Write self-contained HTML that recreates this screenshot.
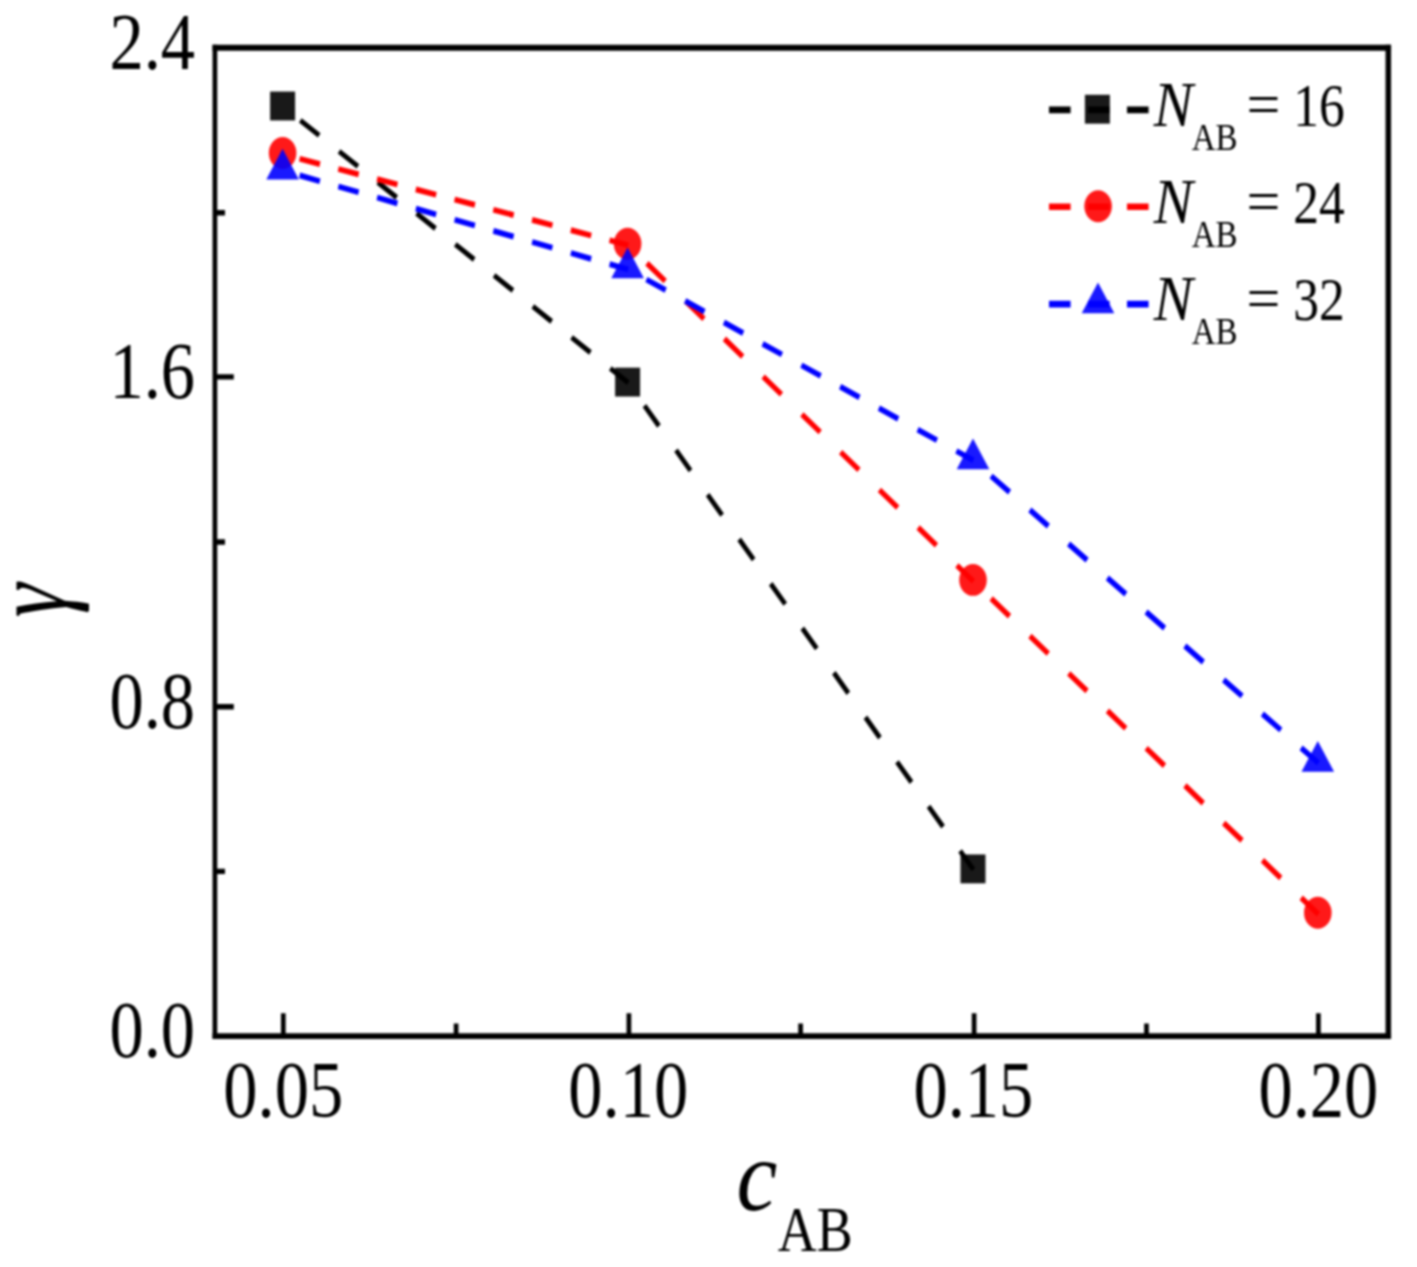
<!DOCTYPE html>
<html lang="en"><head><meta charset="utf-8"><title>gamma vs c_AB</title>
<style>
html,body{margin:0;padding:0;background:#fff;}
body{width:1417px;height:1267px;overflow:hidden;}
svg{display:block;}
#chart{width:1417px;height:1267px;filter:blur(1px);}
text{font-family:"Liberation Serif","Times New Roman",Times,serif;fill:#000;}
.it{font-style:italic;}
</style></head><body><div id="chart">
<svg width="1417" height="1267" viewBox="0 0 1417 1267">
<rect width="1417" height="1267" fill="#fff"/>
<g transform="scale(1,1.155)">
<path d="M214.9 38.65 V899.64" stroke="#000" stroke-width="4.7" fill="none"/>
<path d="M1388.3 38.65 V899.64" stroke="#000" stroke-width="5.5" fill="none"/>
<path d="M212.55 41.3 H1391.05" stroke="#000" stroke-width="5.3" fill="none"/>
<path d="M212.55 897.14 H1391.05" stroke="#000" stroke-width="5.0" fill="none"/>
<path d="M283.3 897.14 V877.32 M628.9 897.14 V877.32 M974.1 897.14 V877.32 M1318.4 897.14 V877.32 M456.1 897.14 V886.15 M800.6 897.14 V886.15 M1146.5 897.14 V886.15 M214.9 326.32 H233.8 M214.9 611.86 H233.8 M214.9 184.16 H225 M214.9 469.26 H225 M214.9 754.46 H225" stroke="#000" stroke-width="4.7" fill="none"/>
<path d="M300.31 104.17L319.19 117.25M339.06 131.02L357.94 144.1M377.81 157.87L396.69 170.95M416.56 184.72L435.44 197.8M455.31 211.57L474.19 224.65M494.06 238.41L512.94 251.5M532.81 265.26L551.69 278.35M571.56 292.11L590.44 305.2M610.31 318.96L628.3 331.43" stroke="#000" stroke-width="4.6" fill="none"/>
<path d="M644.48 351.19L658.96 368.87M676.04 389.74L690.52 407.42M707.61 428.29L722.09 445.97M739.17 466.84L753.65 484.52M770.74 505.39L785.22 523.07M802.3 543.94L816.78 561.62M833.86 582.49L848.35 600.17M865.43 621.04L879.91 638.72M896.99 659.59L911.48 677.27M928.56 698.14L943.04 715.82M960.12 736.69L973.4 752.9" stroke="#000" stroke-width="4.6" fill="none"/>
<path d="M299.55 137.47L319.95 142.11M338.3 146.29L358.7 150.93M377.05 155.11L397.45 159.75M415.8 163.93L436.2 168.57M454.55 172.75L474.95 177.39M493.3 181.57L513.7 186.21M532.05 190.39L552.45 195.03M570.8 199.21L591.2 203.85M609.55 208.03L628.3 212.29" stroke="#f00" stroke-width="5" fill="none"/>
<path d="M646.91 227.99L665.19 243.41M685.66 260.68L703.94 276.09M724.41 293.36L742.69 308.78M763.16 326.05L781.44 341.46M801.91 358.73L820.19 374.15M840.66 391.42L858.94 406.83M879.41 424.1L897.69 439.52M918.16 456.78L936.44 472.2M956.91 489.47L973.4 503.38" stroke="#f00" stroke-width="5" fill="none"/>
<path d="M991.2 518.25L1009.5 533.53M1029.95 550.62L1048.25 565.91M1068.7 583L1087 598.28M1107.45 615.37L1125.75 630.65M1146.2 647.74L1164.5 663.03M1184.95 680.12L1203.25 695.4M1223.7 712.49L1242 727.77M1262.45 744.86L1280.75 760.15M1301.2 777.23L1318.4 791.6" stroke="#f00" stroke-width="5" fill="none"/>
<path d="M299.6 151.83L319.9 156.87M338.35 161.44L358.65 166.47M377.1 171.05L397.4 176.08M415.85 180.66L436.15 185.69M454.6 190.27L474.9 195.3M493.35 199.87L513.65 204.91M532.1 209.48L552.4 214.51M570.85 219.09L591.15 224.12M609.6 228.7L628.3 233.33" stroke="#00f" stroke-width="5" fill="none"/>
<path d="M646.38 241.99L665.72 251.26M685.13 260.55L704.47 269.81M723.88 279.11L743.22 288.37M762.63 297.67L781.97 306.93M801.38 316.23L820.72 325.49M840.13 334.79L859.47 344.05M878.88 353.35L898.22 362.61M917.63 371.9L936.97 381.17M956.38 390.46L973.4 398.61" stroke="#00f" stroke-width="5" fill="none"/>
<path d="M991.11 412.07L1009.59 426.1M1029.86 441.49L1048.34 455.52M1068.61 470.92L1087.09 484.95M1107.36 500.34L1125.84 514.38M1146.11 529.77L1164.59 543.8M1184.86 559.2L1203.34 573.23M1223.61 588.62L1242.09 602.66M1262.36 618.05L1280.84 632.08M1301.11 647.48L1318.4 660.61" stroke="#00f" stroke-width="5" fill="none"/>
<rect x="270.1" y="79.27" width="25" height="25" fill="#000" fill-opacity="0.9"/>
<rect x="615.1" y="318.32" width="25" height="25" fill="#000" fill-opacity="0.9"/>
<rect x="960.5" y="739.79" width="25" height="25" fill="#000" fill-opacity="0.9"/>
<circle cx="282.6" cy="132.47" r="13.8" fill="#f00" fill-opacity="0.9"/>
<circle cx="627.6" cy="211" r="13.8" fill="#f00" fill-opacity="0.9"/>
<circle cx="973" cy="502.08" r="13.8" fill="#f00" fill-opacity="0.9"/>
<circle cx="1317.8" cy="790.3" r="13.8" fill="#f00" fill-opacity="0.9"/>
<path d="M282.6 128.76 L298.9 155.36 L266.3 155.36 Z" fill="#00f" fill-opacity="0.9"/>
<path d="M627.6 214.3 L643.9 240.9 L611.3 240.9 Z" fill="#00f" fill-opacity="0.9"/>
<path d="M973 379.58 L989.3 406.18 L956.7 406.18 Z" fill="#00f" fill-opacity="0.9"/>
<path d="M1317.8 641.57 L1334.1 668.17 L1301.5 668.17 Z" fill="#00f" fill-opacity="0.9"/>
<text transform="translate(283.3,967.01) scale(1,1.006)" font-size="68.5" text-anchor="middle">0.05</text>
<text transform="translate(628.3,967.01) scale(1,1.006)" font-size="68.5" text-anchor="middle">0.10</text>
<text transform="translate(973.4,967.01) scale(1,1.006)" font-size="68.5" text-anchor="middle">0.15</text>
<text transform="translate(1318.4,967.01) scale(1,1.006)" font-size="68.5" text-anchor="middle">0.20</text>
<text transform="translate(195.1,59.74) scale(1,1.006)" font-size="68.5" text-anchor="end">2.4</text>
<text transform="translate(195.1,344.76) scale(1,1.006)" font-size="68.5" text-anchor="end">1.6</text>
<text transform="translate(195.1,630.3) scale(1,1.006)" font-size="68.5" text-anchor="end">0.8</text>
<text transform="translate(195.1,915.58) scale(1,1.006)" font-size="68.5" text-anchor="end">0.0</text>
<text class="it" transform="translate(736.6,1048.05) scale(1,0.955)" font-size="92">c</text>
<text x="777.7" y="1083.46" font-size="54">AB</text>
<path d="M1049 95.15L1070.6 95.15M1088 95.15L1109.6 95.15M1127 95.15L1148.6 95.15" stroke="#000" stroke-width="5.7" fill="none"/>
<rect x="1084.9" y="82.05" width="25" height="25" fill="#000" fill-opacity="0.9"/>
<text class="it" transform="translate(1153.8,108.83) scale(1.12,1.04)" font-size="52.5">N</text>
<text x="1191.7" y="129.96" font-size="33.0">AB</text>
<text transform="translate(1246.5,107.27) scale(1.155,1)" font-size="52">=</text>
<text transform="translate(1344.8,108.83) scale(1,1.04)" font-size="51.5" text-anchor="end">16</text>
<path d="M1049 179.05L1070.6 179.05M1088 179.05L1109.6 179.05M1127 179.05L1148.6 179.05" stroke="#f00" stroke-width="5.7" fill="none"/>
<circle cx="1098.1" cy="178.61" r="13.8" fill="#f00" fill-opacity="0.9"/>
<text class="it" transform="translate(1153.8,192.81) scale(1.12,1.04)" font-size="52.5">N</text>
<text x="1191.7" y="213.94" font-size="33.0">AB</text>
<text transform="translate(1246.5,191.26) scale(1.155,1)" font-size="52">=</text>
<text transform="translate(1344.8,192.81) scale(1,1.04)" font-size="51.5" text-anchor="end">24</text>
<path d="M1049 263.29L1070.6 263.29M1088 263.29L1109.6 263.29M1127 263.29L1148.6 263.29" stroke="#00f" stroke-width="5.7" fill="none"/>
<path d="M1098 244.6 L1114.3 271.2 L1081.7 271.2 Z" fill="#00f" fill-opacity="0.9"/>
<text class="it" transform="translate(1153.8,276.71) scale(1.12,1.04)" font-size="52.5">N</text>
<text x="1191.7" y="297.84" font-size="33.0">AB</text>
<text transform="translate(1246.5,275.15) scale(1.155,1)" font-size="52">=</text>
<text transform="translate(1344.8,276.71) scale(1,1.04)" font-size="51.5" text-anchor="end">32</text>
</g>
<text class="it" transform="translate(66.3,617.5) rotate(-90) scale(0.865,1.08)" font-size="100">γ</text>
</svg>
</div></body></html>
